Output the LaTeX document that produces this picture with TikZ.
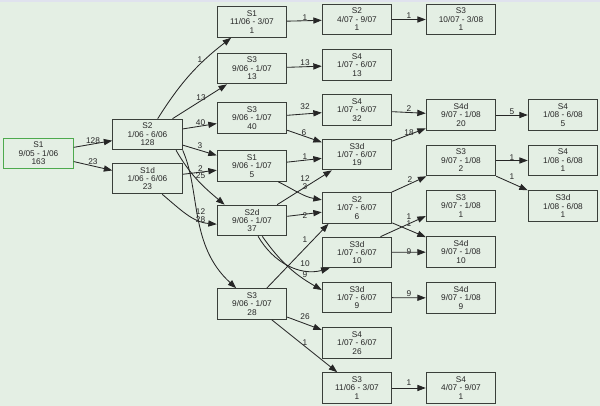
\documentclass[tikz,border=0pt]{standalone}
\usepackage{fontspec}
\setmainfont{Liberation Sans}
\usepackage{tikz}
\usetikzlibrary{arrows.meta}
\definecolor{bgmint}{HTML}{E4EFE4}
\definecolor{topband}{HTML}{E0E2EE}
\definecolor{startgreen}{HTML}{4DAA4D}
\definecolor{boxline}{HTML}{3A3F3A}
\tikzset{
  statebox/.style={draw=boxline,line width=0.6pt,rectangle,align=center,
    minimum width=1.74cm,minimum height=0.77cm,inner sep=0pt,text=black!85,
    font=\fontsize{5.9}{6}\selectfont},
  startbox/.style={statebox,draw=startgreen},
  flowarrow/.style={-{Triangle[length=6pt,width=4.4pt]},line width=0.6pt,draw=black!85},
  countlabel/.style={font=\fontsize{5.9}{6}\selectfont,inner sep=0pt,text=black!85}
}

\begin{document}
\begin{tikzpicture}[x=0.025cm,y=0.025cm]
  \fill[bgmint] (0,0) rectangle (600,-406);
  \fill[topband] (0,0) rectangle (600,-2);
  \useasboundingbox (0,0) rectangle (600,-406);

  % states, one column per period
  \node[startbox] (s1sep05) at (38.5,-153.5) {S1\\9/05 - 1/06\\163};

  \node[statebox] (s2jan06) at (147.5,-134.5) {S2\\1/06 - 6/06\\128};
  \node[statebox] (s1djan06) at (147.5,-178.5) {S1d\\1/06 - 6/06\\23};

  \node[statebox] (s1nov06) at (252,-22) {S1\\11/06 - 3/07\\1};
  \node[statebox] (s3sep06a) at (252,-68.5) {S3\\9/06 - 1/07\\13};
  \node[statebox] (s3sep06b) at (252,-118) {S3\\9/06 - 1/07\\40};
  \node[statebox] (s1sep06) at (252,-166) {S1\\9/06 - 1/07\\5};
  \node[statebox] (s2dsep06) at (252,-220.5) {S2d\\9/06 - 1/07\\37};
  \node[statebox] (s3sep06c) at (252,-304) {S3\\9/06 - 1/07\\28};

  \node[statebox] (s2apr07) at (357,-19.5) {S2\\4/07 - 9/07\\1};
  \node[statebox] (s4jan07a) at (357,-65) {S4\\1/07 - 6/07\\13};
  \node[statebox] (s4jan07b) at (357,-110) {S4\\1/07 - 6/07\\32};
  \node[statebox] (s3djan07a) at (357,-154.5) {S3d\\1/07 - 6/07\\19};
  \node[statebox] (s2jan07) at (357,-208) {S2\\1/07 - 6/07\\6};
  \node[statebox] (s3djan07b) at (357,-252.5) {S3d\\1/07 - 6/07\\10};
  \node[statebox] (s3djan07c) at (357,-297.5) {S3d\\1/07 - 6/07\\9};
  \node[statebox] (s4jan07c) at (357,-343) {S4\\1/07 - 6/07\\26};
  \node[statebox] (s3nov06) at (357,-388) {S3\\11/06 - 3/07\\1};

  \node[statebox] (s3oct07) at (461,-19.5) {S3\\10/07 - 3/08\\1};
  \node[statebox] (s4dsep07a) at (461,-115) {S4d\\9/07 - 1/08\\20};
  \node[statebox] (s3sep07a) at (461,-160.5) {S3\\9/07 - 1/08\\2};
  \node[statebox] (s3sep07b) at (461,-206) {S3\\9/07 - 1/08\\1};
  \node[statebox] (s4dsep07b) at (461,-252) {S4d\\9/07 - 1/08\\10};
  \node[statebox] (s4dsep07c) at (461,-298) {S4d\\9/07 - 1/08\\9};
  \node[statebox] (s4apr07) at (461,-388) {S4\\4/07 - 9/07\\1};

  \node[statebox] (s4jan08a) at (563,-115) {S4\\1/08 - 6/08\\5};
  \node[statebox] (s4jan08b) at (563,-160.5) {S4\\1/08 - 6/08\\1};
  \node[statebox] (s3djan08) at (563,-206) {S3d\\1/08 - 6/08\\1};

  % transitions
  \draw[flowarrow] (s1sep05)--(s2jan06);
  \draw[flowarrow] (s1sep05)--(s1djan06);
  \draw[flowarrow] (s2jan06) to[bend left=10] (s1nov06);
  \draw[flowarrow] (s2jan06)--(s3sep06a);
  \draw[flowarrow] (s2jan06)--(s3sep06b);
  \draw[flowarrow] (s2jan06)--(s1sep06);
  \draw[flowarrow] (s2jan06.331) to[out=-60,in=140] (s2dsep06.150);
  \draw[flowarrow] (s2jan06.south east) .. controls +(18,-41) and +(-47,43) .. (s3sep06c.135);
  \draw[flowarrow] (s1djan06)--(s1sep06);
  \draw[flowarrow] (s1djan06.313) to[out=-40,in=175] (s2dsep06.186);
  \draw[flowarrow] (s1nov06)--(s2apr07);
  \draw[flowarrow] (s3sep06a)--(s4jan07a);
  \draw[flowarrow] (s3sep06b)--(s4jan07b);
  \draw[flowarrow] (s3sep06b)--(s3djan07a);
  \draw[flowarrow] (s1sep06)--(s3djan07a);
  \draw[flowarrow] (s1sep06.329) to[out=-27,in=170] (s2jan07.167);
  \draw[flowarrow] (s2dsep06)--(s3djan07a);
  \draw[flowarrow] (s2dsep06)--(s2jan07);
  \draw[flowarrow] (s2dsep06.291) to[out=-60,in=195] (s3djan07b.210);
  \draw[flowarrow] (s2dsep06.303) to[out=-55,in=150] (s3djan07c.168);
  \draw[flowarrow] (s3sep06c.47)--(s2jan07.209);
  \draw[flowarrow] (s3sep06c)--(s4jan07c);
  \draw[flowarrow] (s3sep06c)--(s3nov06);
  \draw[flowarrow] (s2apr07)--(s3oct07);
  \draw[flowarrow] (s4jan07b)--(s4dsep07a);
  \draw[flowarrow] (s3djan07a)--(s4dsep07a);
  \draw[flowarrow] (s2jan07)--(s3sep07a);
  \draw[flowarrow] (s2jan07)--(s4dsep07b);
  \draw[flowarrow] (s3djan07b.34)--(s3sep07b.196);
  \draw[flowarrow] (s3djan07b)--(s4dsep07b);
  \draw[flowarrow] (s3djan07c)--(s4dsep07c);
  \draw[flowarrow] (s3nov06)--(s4apr07);
  \draw[flowarrow] (s4dsep07a)--(s4jan08a);
  \draw[flowarrow] (s3sep07a)--(s4jan08b);
  \draw[flowarrow] (s3sep07a)--(s3djan08);

  % counts on the transitions
  \node[countlabel] (n128) at (93,-141) {128};
  \node[countlabel] (n23) at (93,-162) {23};
  \node[countlabel] (n1nov) at (200,-59.5) {1};
  \node[countlabel] (n13a) at (201,-98) {13};
  \node[countlabel] (n40) at (200.5,-123) {40};
  \node[countlabel] (n3a) at (200,-146) {3};
  \node[countlabel] (n2a) at (200.5,-168.5) {2};
  \node[countlabel] (n25) at (200.5,-176) {25};
  \node[countlabel] (n12a) at (200.5,-211.5) {12};
  \node[countlabel] (n28) at (200.5,-219.5) {28};
  \node[countlabel] (n1apr) at (305,-18) {1};
  \node[countlabel] (n13b) at (305,-63) {13};
  \node[countlabel] (n32) at (305,-107) {32};
  \node[countlabel] (n6) at (304,-133) {6};
  \node[countlabel] (n1s3da) at (305,-157) {1};
  \node[countlabel] (n12b) at (305,-178.5) {12};
  \node[countlabel] (n3b) at (305,-187) {3};
  \node[countlabel] (n2b) at (305,-216) {2};
  \node[countlabel] (n1s2) at (305,-240) {1};
  \node[countlabel] (n10) at (305,-264) {10};
  \node[countlabel] (n9a) at (305,-275) {9};
  \node[countlabel] (n26) at (305,-317) {26};
  \node[countlabel] (n1s3) at (305,-343) {1};
  \node[countlabel] (n1oct) at (409,-16) {1};
  \node[countlabel] (n2c) at (409,-109) {2};
  \node[countlabel] (n18) at (409,-133) {18};
  \node[countlabel] (n2d) at (410,-180) {2};
  \node[countlabel] (n1s3b) at (409,-216.5) {1};
  \node[countlabel] (n1s4db) at (409,-224) {1};
  \node[countlabel] (n9b) at (409,-251.5) {9};
  \node[countlabel] (n9c) at (409,-294) {9};
  \node[countlabel] (n1apr07) at (409,-383) {1};
  \node[countlabel] (n5) at (512,-112) {5};
  \node[countlabel] (n1s4) at (512,-158) {1};
  \node[countlabel] (n1s3d) at (512,-177) {1};
\end{tikzpicture}
\end{document}
